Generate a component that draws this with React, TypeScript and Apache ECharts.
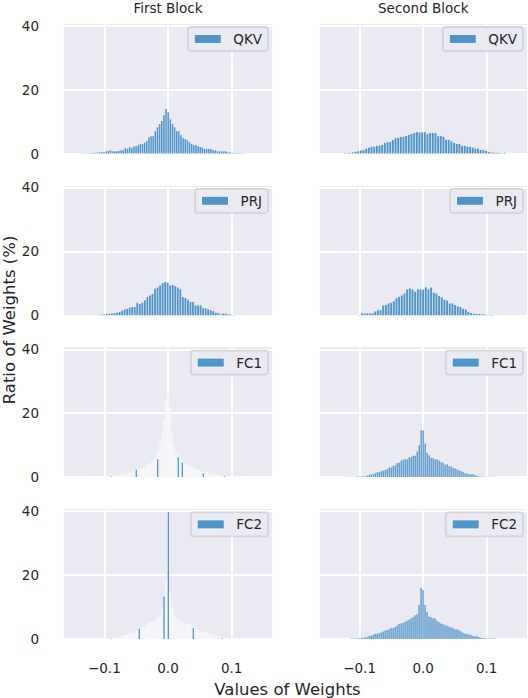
import React, { useEffect, useRef } from 'react';
import * as echarts from 'echarts';

// ---------- data ----------
const COL_TITLES = ['First Block', 'Second Block'];
const X_TICKS = [-0.1, 0.0, 0.1];
const Y_TICKS = [0, 20, 40];
const X_TITLE = 'Values of Weights';
const Y_TITLE = 'Ratio of Weights (%)';

// QKV, first block (bin centres start, bin width, heights in %)
const QKV_FIRST_START = -0.1375;
const QKV_FIRST_WIDTH = 0.00336;
const QKV_FIRST = [
  0.05, 0.05, 0.1, 0.1, 0.1, 0.15, 0.15,
  0.2, 0.3, 0.3, 0.4, 0.4, 0.6, 0.8, 1.0, 0.7, 0.7,
  0.7, 0.8, 1.0, 1.0, 1.7, 1.4, 2.0, 1.7, 2.3, 2.3,
  2.6, 2.9, 2.9, 3.4, 3.9, 5.1, 5.4, 5.4, 7.0, 8.2,
  9.2, 10.2, 12.0, 13.9, 12.9, 10.7, 9.2, 8.2, 7.0, 7.0,
  5.7, 4.8, 4.5, 4.2, 3.5, 3.0, 2.6, 2.6, 2.3, 2.0,
  1.8, 1.4, 1.4, 1.4, 1.4, 1.0, 1.0, 0.7, 0.7, 0.7,
  0.7, 0.7, 0.3, 0.4, 0.2, 0.2, 0.2, 0.2, 0.1, 0.1,
];

// QKV, second block
const QKV_SECOND_START = -0.1231;
const QKV_SECOND_WIDTH = 0.00419;
const QKV_SECOND = [
  0.1, 0.1, 0.2, 0.3, 0.5, 0.7, 0.9, 1.1, 1.5, 1.8,
  2.1, 2.1, 2.4, 2.5, 2.7, 3.3, 3.6, 3.6, 4.2, 4.8,
  4.9, 5.2, 5.2, 5.5, 5.8, 6.1, 6.4, 6.7, 6.6, 6.6,
  6.7, 6.1, 6.4, 6.4, 6.4, 5.4, 5.5, 5.2, 4.3, 4.3,
  3.8, 3.3, 3.0, 3.0, 2.4, 2.4, 2.1, 2.1, 1.8, 1.5,
  1.5, 1.1, 1.1, 0.8, 0.5, 0.3, 0.2, 0.2, 0.2, 0.1,
  0.2,
];

// PRJ, first block
const PRJ_FIRST_START = -0.108;
const PRJ_FIRST_WIDTH = 0.00398;
const PRJ_FIRST = [
  0.1, 0.2, 0.3, 0.4, 0.5, 0.6, 0.7, 0.8, 1.0, 1.4,
  1.8, 2.0, 2.4, 2.6, 2.6, 3.9, 3.5, 4.0, 4.7, 5.7,
  6.2, 6.7, 8.3, 8.7, 9.3, 10.1, 10.4, 10.2, 9.3, 9.5,
  9.1, 8.7, 8.1, 5.7, 5.4, 4.9, 4.2, 4.2, 3.1, 3.1,
  3.1, 2.2, 2.2, 1.8, 1.6, 1.3, 0.8, 0.7, 0.3, 0.6,
  0.5, 0.3, 0.2, 0.1,
];

// PRJ, second block
const PRJ_SECOND_START = -0.1006;
const PRJ_SECOND_WIDTH = 0.00419;
const PRJ_SECOND = [
  0.1, 0.6, 0.6, 0.6, 0.6, 0.6, 1.2, 1.6, 1.6,
  3.1, 3.2, 3.7, 3.9, 4.4, 5.3, 5.8, 6.2, 6.8, 8.1,
  8.4, 8.1, 7.4, 8.1, 8.1, 8.0, 8.8, 8.1, 8.7, 7.1,
  6.8, 6.0, 5.6, 4.9, 4.6, 3.7, 3.7, 3.2, 2.8, 2.6,
  2.0, 1.8, 1.1, 0.7, 0.5, 0.4, 0.4, 0.3, 0.3, 0.1,
  0.1, 0.1,
];

// FC1, first block: dense fine bins (appear pale) + the few bins that show blue
const FC1_FIRST_DENSE_START = -0.12;
const FC1_FIRST_DENSE_WIDTH = 0.003;
const FC1_FIRST_DENSE = [
  0.05, 0.05, 0.05, 0.1, 0.1, 0.1, 0.15, 0.15, 0.2, 0.25,
  0.3, 0.35, 0.4, 0.5, 0.6, 0.75, 0.9, 1.0, 1.1, 1.25,
  1.4, 1.6, 1.8, 2.0, 2.2, 2.45, 2.7, 2.95, 3.2, 3.7,
  4.2, 4.5, 4.8, 5.6, 6.5, 8.3, 11, 14, 18, 24,
  26,
  22, 14.5, 10, 7.8, 7.0, 6.0, 5.5, 5.0, 4.5, 4.0,
  3.6, 3.3, 3.0, 2.7, 2.5, 2.3, 2.05, 1.8, 1.6, 1.4,
  1.25, 1.1, 1.0, 0.9, 0.8, 0.7, 0.6, 0.5, 0.45, 0.4,
  0.3, 0.25, 0.2, 0.15, 0.1, 0.1, 0.1, 0.1, 0.05, 0.05,
];
const FC1_FIRST_SPIKE_X = [-0.0892, -0.0498, -0.0162, 0.0162, 0.0225, 0.0555, 0.0885];
const FC1_FIRST_SPIKE_Y = [0.2, 2.3, 5.6, 6.2, 4.6, 1.2, 0.3];

// FC1, second block
const FC1_SECOND_START = -0.1224;
const FC1_SECOND_WIDTH = 0.00314;
const FC1_SECOND = [
  0.1, 0.1, 0.1, 0.1, 0.1, 0.1, 0.2, 0.2, 0.2, 0.2,
  0.2, 0.4, 0.7, 0.8, 0.9, 1.2, 1.5, 1.5, 1.8, 2.1,
  2.2, 2.5, 3.0, 3.0, 3.5, 3.7, 4.4, 4.5, 5.2, 5.5,
  5.6, 5.6, 6.2, 6.2, 6.7, 6.7, 8.0, 10.0, 14.7, 14.6,
  10.5, 7.6, 6.8, 6.0, 6.0, 5.6, 5.6, 5.2, 4.7, 4.5,
  3.9, 4.0, 3.5, 3.3, 2.9, 2.7, 2.4, 2.1, 1.9, 1.6,
  1.2, 1.1, 0.9, 0.9, 0.9, 0.6, 0.4, 0.2, 0.2, 0.15,
  0.1, 0.1, 0.1, 0.1, 0.1, 0.1,
];

// FC2, first block
const FC2_FIRST_DENSE_START = -0.12;
const FC2_FIRST_DENSE_WIDTH = 0.003;
const FC2_FIRST_DENSE = [
  0.03, 0.03, 0.05, 0.05, 0.05, 0.05, 0.05, 0.1, 0.1, 0.2,
  0.3, 0.35, 0.45, 0.55, 0.7, 0.85, 1.0, 1.2, 1.4, 1.6,
  1.8, 2.0, 2.2, 2.45, 2.7, 3.0, 3.3, 3.6, 3.9, 4.5,
  5.1, 5.2, 5.3, 5.6, 6.2, 7.0, 7.8, 9.5, 12, 18,
  25,
  14.5, 10, 7.6, 6.6, 6.1, 5.7, 5.3, 5.1, 5.0, 4.8,
  4.5, 4.2, 3.8, 3.4, 3.1, 2.8, 2.6, 2.4, 2.2, 2.0,
  1.8, 1.6, 1.4, 1.2, 1.0, 0.9, 0.8, 0.6, 0.5, 0.4,
  0.3, 0.2, 0.15, 0.1, 0.05, 0.05, 0.05, 0.05, 0.03, 0.03,
];
const FC2_FIRST_SPIKE_X = [-0.0901, -0.0451, -0.0063, 0.0005, 0.0398, 0.0854];
const FC2_FIRST_SPIKE_Y = [0.1, 3.2, 13.2, 39.6, 3.4, 0.2];

// FC2, second block
const FC2_SECOND_START = -0.1132;
const FC2_SECOND_WIDTH = 0.00314;
const FC2_SECOND = [
  0.1, 0.1, 0.1, 0.15, 0.2, 0.3, 0.3, 0.5, 0.5, 0.9,
  1.1, 1.3, 1.5, 1.6, 1.8, 2.0, 2.3, 2.6, 2.8, 3.0,
  3.4, 3.4, 3.7, 4.1, 4.7, 4.8, 5.0, 5.3, 5.7, 6.0,
  6.5, 6.8, 7.4, 7.7, 10.6, 15.9, 15.2, 10.6, 8.5, 7.0,
  6.8, 6.5, 6.4, 5.7, 5.2, 4.8, 4.6, 4.3, 4.1, 3.8,
  3.6, 3.4, 3.0, 3.0, 2.8, 2.3, 1.9, 1.7, 1.6, 1.3,
  1.3, 0.9, 0.8, 0.9, 0.6, 0.3, 0.3, 0.2, 0.1, 0.1,
  0.1, 0.1, 0.1,
];

// ---------- style / layout ----------
const FONT = 'DejaVu Sans';
const TEXT = '#262626';
const BLUE = '#5095c8';
const PALE = '#f6f6f9';
const PANEL_BG = '#eaeaf2';
const COL_LEFT = [63, 318.3];
const ROW_TOP = [22.5, 184.3, 346.1, 507.9];
const PANEL_W = 210;
const PANEL_H = 131;
const X_MIN = -0.165;
const X_MAX = 0.165;
const Y_MAX = 41;

type Panel = {
  row: number;
  col: number;
  name: string;
  hist?: { start: number; width: number; values: number[]; barW: number };
  dense?: { start: number; width: number; values: number[] };
  spikes?: { xs: number[]; ys: number[] };
};

const PANELS: Panel[] = [
  { row: 0, col: 0, name: 'QKV', hist: { start: QKV_FIRST_START, width: QKV_FIRST_WIDTH, values: QKV_FIRST, barW: 1.5 } },
  { row: 0, col: 1, name: 'QKV', hist: { start: QKV_SECOND_START, width: QKV_SECOND_WIDTH, values: QKV_SECOND, barW: 1.9 } },
  { row: 1, col: 0, name: 'PRJ', hist: { start: PRJ_FIRST_START, width: PRJ_FIRST_WIDTH, values: PRJ_FIRST, barW: 1.8 } },
  { row: 1, col: 1, name: 'PRJ', hist: { start: PRJ_SECOND_START, width: PRJ_SECOND_WIDTH, values: PRJ_SECOND, barW: 1.9 } },
  {
    row: 2, col: 0, name: 'FC1',
    dense: { start: FC1_FIRST_DENSE_START, width: FC1_FIRST_DENSE_WIDTH, values: FC1_FIRST_DENSE },
    spikes: { xs: FC1_FIRST_SPIKE_X, ys: FC1_FIRST_SPIKE_Y },
  },
  { row: 2, col: 1, name: 'FC1', hist: { start: FC1_SECOND_START, width: FC1_SECOND_WIDTH, values: FC1_SECOND, barW: 1.3 } },
  {
    row: 3, col: 0, name: 'FC2',
    dense: { start: FC2_FIRST_DENSE_START, width: FC2_FIRST_DENSE_WIDTH, values: FC2_FIRST_DENSE },
    spikes: { xs: FC2_FIRST_SPIKE_X, ys: FC2_FIRST_SPIKE_Y },
  },
  { row: 3, col: 1, name: 'FC2', hist: { start: FC2_SECOND_START, width: FC2_SECOND_WIDTH, values: FC2_SECOND, barW: 1.3 } },
];

function xLabel(v: number): string {
  const t = X_TICKS.find((k) => Math.abs(k - v) < 1e-6);
  if (t === undefined) return '';
  return t.toFixed(1).replace('-', '\u2212');
}

function yLabel(v: number): string {
  return Y_TICKS.some((k) => Math.abs(k - v) < 1e-6) ? String(v) : '';
}

function buildOption() {
  const grid: any[] = [];
  const xAxis: any[] = [];
  const yAxis: any[] = [];
  const series: any[] = [];
  const legend: any[] = [];

  PANELS.forEach((p, gi) => {
    grid.push({
      left: COL_LEFT[p.col], top: ROW_TOP[p.row], width: PANEL_W, height: PANEL_H,
      show: true, backgroundColor: PANEL_BG, borderWidth: 0,
    });
    const mainX = xAxis.length;
    xAxis.push({
      type: 'value', gridIndex: gi, min: X_MIN, max: X_MAX, splitNumber: 3,
      axisLine: { show: false }, axisTick: { show: false },
      splitLine: { show: true, lineStyle: { color: '#ffffff', width: 1.8 } },
      axisLabel: {
        show: p.row === 3, formatter: xLabel, color: TEXT, fontSize: 13.5,
        fontFamily: FONT, margin: 22, showMinLabel: false, showMaxLabel: false,
      },
    });
    yAxis.push({
      type: 'value', gridIndex: gi, min: 0, max: Y_MAX, interval: 20,
      axisLine: { show: false }, axisTick: { show: false },
      splitLine: { show: true, lineStyle: { color: '#ffffff', width: 1.8 } },
      axisLabel: {
        show: p.col === 0, formatter: yLabel, color: TEXT, fontSize: 13.5,
        fontFamily: FONT, margin: 24,
      },
    });
    if (p.hist) {
      const h = p.hist;
      series.push({
        type: 'bar', name: p.name, xAxisIndex: mainX, yAxisIndex: gi,
        barWidth: h.barW, itemStyle: { color: BLUE },
        data: h.values.map((v, i) => [h.start + i * h.width, v]),
      });
    }
    if (p.dense) {
      const d = p.dense;
      const denseX = xAxis.length;
      xAxis.push({
        type: 'value', gridIndex: gi, min: X_MIN, max: X_MAX, show: false,
        splitLine: { show: false },
      });
      series.push({
        type: 'bar', name: p.name + ' dense', xAxisIndex: denseX, yAxisIndex: gi, z: 1,
        barWidth: d.width * (PANEL_W / (X_MAX - X_MIN)) + 0.1,
        itemStyle: { color: PALE },
        data: d.values.map((v, i) => [d.start + i * d.width, v]),
      });
    }
    if (p.spikes) {
      const s = p.spikes;
      series.push({
        type: 'bar', name: p.name, xAxisIndex: mainX, yAxisIndex: gi, z: 3,
        barWidth: 1.3, itemStyle: { color: BLUE },
        data: s.xs.map((x, i) => [x, s.ys[i]]),
      });
    }
    legend.push({
      data: [p.name],
      right: p.col === 0 ? 528 - (COL_LEFT[0] + PANEL_W - 5) : 5,
      top: ROW_TOP[p.row] + 4.5,
      orient: 'horizontal',
      backgroundColor: PANEL_BG,
      borderColor: '#d4d4d8', borderWidth: 1.8, borderRadius: 3,
      padding: [4, 6, 4, 6],
      itemWidth: 27, itemHeight: 9, icon: 'rect',
      itemStyle: { color: BLUE, borderColor: '#ffffff', borderWidth: 0.8 },
      textStyle: { color: TEXT, fontSize: 13.5, fontFamily: FONT, padding: [0, 0, 0, 7], lineHeight: 16 },
      selectedMode: false,
    });
  });

  const graphic: any[] = [
    ...COL_TITLES.map((t, c) => ({
      type: 'text', x: COL_LEFT[c] + PANEL_W / 2 + (c === 0 ? 0 : 0), y: 7.5,
      style: { text: t, fill: TEXT, font: `13.5px "${FONT}"`, textAlign: 'center', textVerticalAlign: 'middle' },
    })),
    {
      type: 'text', x: 287.5, y: 689,
      style: { text: X_TITLE, fill: TEXT, font: `16.5px "${FONT}"`, textAlign: 'center', textVerticalAlign: 'middle' },
    },
    {
      type: 'text', x: 9.5, y: 320, rotation: Math.PI / 2,
      style: { text: Y_TITLE, fill: TEXT, font: `16.5px "${FONT}"`, textAlign: 'center', textVerticalAlign: 'middle' },
    },
  ];

  return {
    animation: false,
    backgroundColor: '#ffffff',
    textStyle: { fontFamily: FONT },
    grid, xAxis, yAxis, series, legend, graphic,
  };
}

export default function App() {
  const ref = useRef<HTMLDivElement | null>(null);
  useEffect(() => {
    if (!ref.current) return;
    const chart = echarts.init(ref.current, undefined, { renderer: 'svg' });
    chart.setOption(buildOption());
    return () => chart.dispose();
  }, []);
  return (
    <div
      ref={ref}
      style={{ position: 'absolute', left: 0, top: 0, width: 528, height: 698 }}
    />
  );
}
